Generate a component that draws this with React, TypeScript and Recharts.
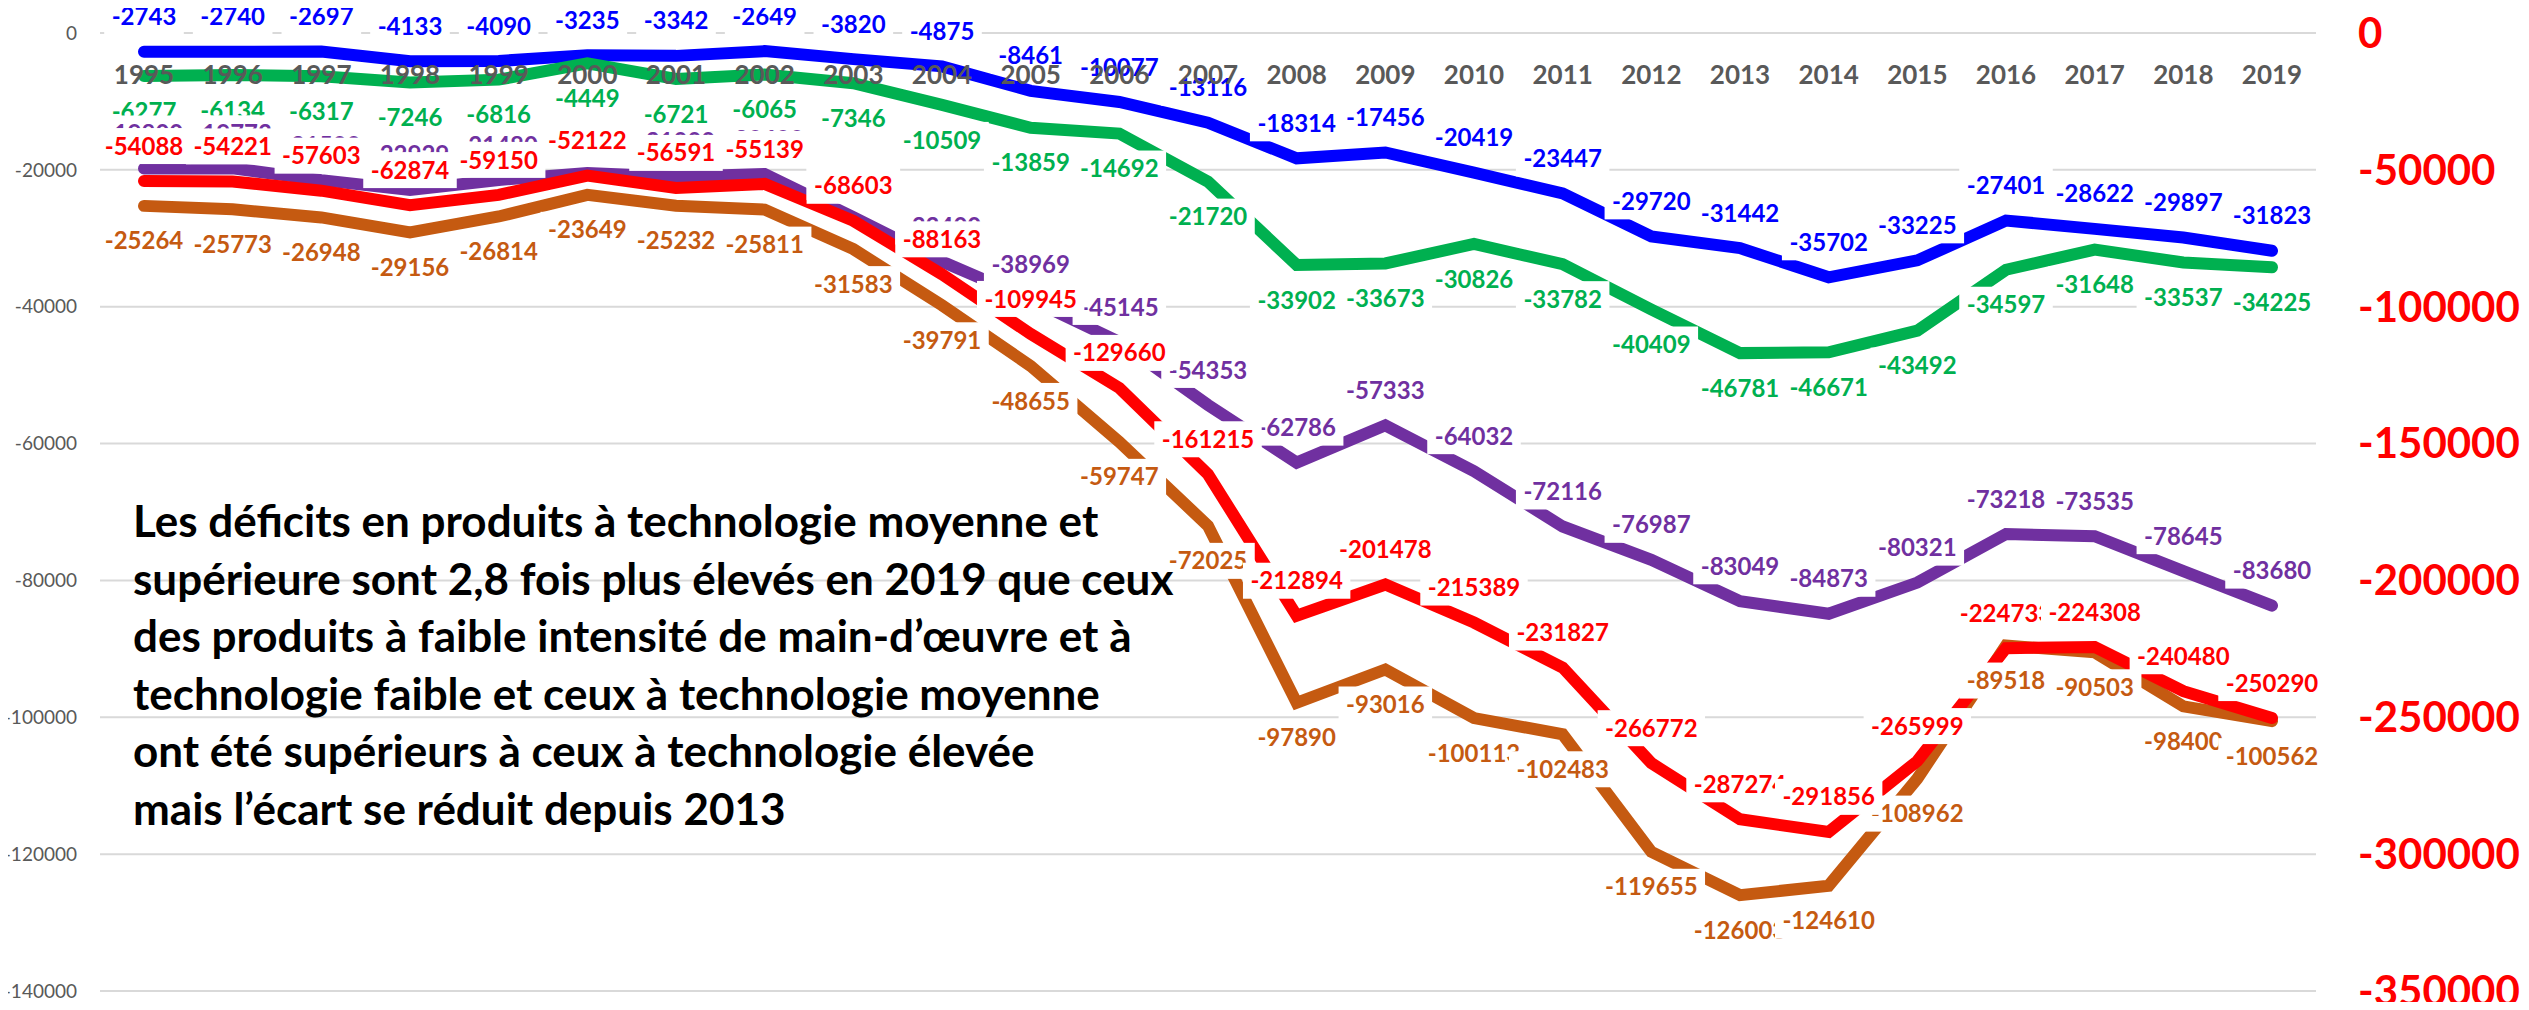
import { CartesianGrid, LabelList, Line, LineChart, XAxis, YAxis } from "recharts";

const years = [
  "1995", "1996", "1997", "1998", "1999", "2000", "2001", "2002", "2003", "2004", "2005", "2006", "2007",
  "2008", "2009", "2010", "2011", "2012", "2013", "2014", "2015", "2016", "2017", "2018", "2019",
];

// left axis
const blueSeries = [
  -2743, -2740, -2697, -4133, -4090, -3235, -3342, -2649, -3820, -4875, -8461, -10077, -13116,
  -18314, -17456, -20419, -23447, -29720, -31442, -35702, -33225, -27401, -28622, -29897, -31823,
];
const greenSeries = [
  -6277, -6134, -6317, -7246, -6816, -4449, -6721, -6065, -7346, -10509, -13859, -14692, -21720,
  -33902, -33673, -30826, -33782, -40409, -46781, -46671, -43492, -34597, -31648, -33537, -34225,
];
const purpleSeries = [
  -19800, -19773, -21500, -22929, -21480, -20450, -21000, -20600, -26900, -33400, -38969, -45145, -54353,
  -62786, -57333, -64032, -72116, -76987, -83049, -84873, -80321, -73218, -73535, -78645, -83680,
];
const orangeSeries = [
  -25264, -25773, -26948, -29156, -26814, -23649, -25232, -25811, -31583, -39791, -48655, -59747, -72025,
  -97890, -93016, -100113, -102483, -119655, -126003, -124610, -108962, -89518, -90503, -98400, -100562,
];
// right axis
const redSeries = [
  -54088, -54221, -57603, -62874, -59150, -52122, -56591, -55139, -68603, -88163, -109945, -129660, -161215,
  -212894, -201478, -215389, -231827, -266772, -287274, -291856, -265999, -224733, -224308, -240480, -250290,
];

const leftTicks = [0, -20000, -40000, -60000, -80000, -100000, -120000, -140000];
const rightTicks = [0, -50000, -100000, -150000, -200000, -250000, -300000, -350000];

const note = [
  "Les déficits en produits à technologie moyenne et",
  "supérieure sont 2,8 fois plus élevés en 2019 que ceux",
  "des produits à faible intensité de main-d’œuvre et à",
  "technologie faible et ceux à technologie moyenne",
  "ont été supérieurs à ceux à technologie élevée",
  "mais l’écart se réduit depuis 2013",
];

const data = years.map((year, i) => ({
  year,
  blue: blueSeries[i],
  green: greenSeries[i],
  purple: purpleSeries[i],
  orange: orangeSeries[i],
  red: redSeries[i],
}));

const FONT = "Lato, 'Open Sans', sans-serif";

function makeLabel(color: string, below: boolean) {
  return (props: any) => {
    const { x, y, value } = props;
    if (x == null || y == null) return null;
    const text = String(value);
    const w = 8 + (text.length - 1) * 13.9 + 16;
    const cy = below ? y + 35 : y - 35;
    return (
      <g>
        <rect x={x - w / 2} y={cy - 18} width={w} height={36} fill="#ffffff" />
        <text x={x} y={cy + 8.6} textAnchor="middle" fill={color} fontFamily={FONT} fontWeight={700} fontSize={24}>
          {text}
        </text>
      </g>
    );
  };
}

const yearLabel = (props: any) => {
  const { x, value } = props;
  if (x == null) return null;
  return (
    <text x={x} y={83.5} textAnchor="middle" fill="#595959" fontFamily={FONT} fontWeight={700} fontSize={26}>
      {value}
    </text>
  );
};

const series = [
  { key: "blue", color: "#0000FF", axis: "left", below: false },
  { key: "green", color: "#00B050", axis: "left", below: true },
  { key: "purple", color: "#7030A0", axis: "left", below: false },
  { key: "orange", color: "#C55A11", axis: "left", below: true },
  { key: "red", color: "#FF0000", axis: "right", below: false },
];

export default function App() {
  return (
    <div style={{ position: "relative", width: 2529, height: 1010, margin: -8 }}>
      <LineChart width={2529} height={1010} data={data} margin={{ top: 33, right: 0, bottom: 19, left: 0 }}>
        <CartesianGrid vertical={false} stroke="#D9D9D9" strokeWidth={2} yAxisId="left" />
        <XAxis dataKey="year" hide padding={{ left: 44, right: 44 }} />
        <YAxis
          yAxisId="left"
          orientation="left"
          width={100}
          domain={[-140000, 0]}
          ticks={leftTicks}
          interval={0}
          axisLine={false}
          tickLine={false}
          tickSize={0}
          tickMargin={23}
          tick={{ fill: "#595959", fontSize: 19, fontFamily: FONT }}
        />
        <YAxis
          yAxisId="right"
          orientation="right"
          width={213}
          domain={[-350000, 0]}
          ticks={rightTicks}
          interval={0}
          axisLine={false}
          tickLine={false}
          tickSize={0}
          tickMargin={42}
          tick={{ fill: "#FF0000", fontSize: 42, fontWeight: 700, fontFamily: FONT }}
        />
        {series.map((s) => (
          <Line
            key={s.key}
            yAxisId={s.axis}
            dataKey={s.key}
            stroke={s.color}
            strokeWidth={12}
            strokeLinecap="round"
            dot={false}
            activeDot={false}
            isAnimationActive={false}
          />
        ))}
        {series.map((s) => (
          <Line
            key={s.key + "-labels"}
            yAxisId={s.axis}
            dataKey={s.key}
            stroke="none"
            dot={false}
            activeDot={false}
            legendType="none"
            isAnimationActive={false}
          >
            <LabelList dataKey={s.key} content={makeLabel(s.color, s.below)} />
          </Line>
        ))}
        <Line
          yAxisId="left"
          dataKey="blue"
          stroke="none"
          dot={false}
          activeDot={false}
          legendType="none"
          isAnimationActive={false}
        >
          <LabelList dataKey="year" content={yearLabel} />
        </Line>
      </LineChart>
      <svg width={2529} height={1010} style={{ position: "absolute", left: 0, top: 0, pointerEvents: "none" }}>
        {note.map((line, i) => (
          <text key={i} x={133} y={537 + i * 57.5} fill="#000000" fontFamily={FONT} fontWeight={700} fontSize={44}>
            {line}
          </text>
        ))}
      </svg>
    </div>
  );
}
